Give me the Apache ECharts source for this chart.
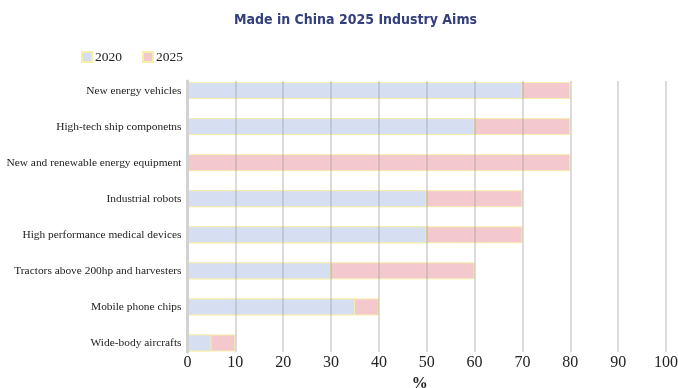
<!DOCTYPE html>
<html>
<head>
<meta charset="utf-8">
<script src="https://cdn.jsdelivr.net/npm/echarts@6/dist/echarts.min.js"></script>
<style>
  html, body { margin: 0; padding: 0; background: #ffffff; }
  #chart { width: 678px; height: 388px; }
</style>
</head>
<body>
<div id="chart"></div>
<script>
// Industry categories, listed top to bottom
const categories = [
  'New energy vehicles',
  'High-tech ship componetns',
  'New and renewable energy equipment',
  'Industrial robots',
  'High performance medical devices',
  'Tractors above 200hp and harvesters',
  'Mobile phone chips',
  'Wide-body aircrafts'
];
// Domestic market share (%) in 2020 and the 2025 target
const share2020 = [70, 60, 0, 50, 50, 30, 35, 5];
const share2025 = [80, 80, 80, 70, 70, 60, 40, 10];
const xTicks = { min: 0, max: 100, interval: 10 };

const serif = '"Liberation Serif", "DejaVu Serif", serif';
const borderYellow = '#f6eeab';

const chart = echarts.init(document.getElementById('chart'), null, { renderer: 'canvas' });

chart.setOption({
  backgroundColor: '#ffffff',
  animation: false,
  graphic: [{
    type: 'text',
    x: 355.5,
    y: 20,
    style: {
      text: 'Made in China 2025 Industry Aims',
      textAlign: 'center',
      textVerticalAlign: 'middle',
      font: 'bold 14px "DejaVu Sans Condensed", "DejaVu Sans", sans-serif',
      fill: '#34407e'
    }
  }],
  legend: {
    data: ['2020', '2025'],
    left: 81,
    top: 50,
    padding: 0,
    itemWidth: 10,
    itemHeight: 10,
    itemGap: 20,
    icon: 'rect',
    textStyle: { fontFamily: serif, fontSize: 13.5, color: '#222', padding: [0, 0, 0, -2] }
  },
  grid: [
    // bars
    { left: 187.5, right: 12, top: 72.5, height: 288.5, outerBoundsMode: 'none' },
    // grid lines and ticks, drawn above the bars
    { left: 187.5, right: 12, top: 81, height: 271, outerBoundsMode: 'none' }
  ],
  xAxis: [
    {
      gridIndex: 0, type: 'value',
      min: xTicks.min, max: xTicks.max, interval: xTicks.interval,
      axisLine: { show: false }, axisTick: { show: false },
      axisLabel: { show: false }, splitLine: { show: false }
    },
    {
      gridIndex: 1, type: 'value', z: 5,
      min: xTicks.min, max: xTicks.max, interval: xTicks.interval,
      axisLine: { show: false }, axisTick: { show: false },
      axisLabel: { fontFamily: serif, fontSize: 16, color: '#222', margin: 3 },
      splitLine: { lineStyle: { color: 'rgba(150,150,150,0.45)', width: 1.5 } },
      name: '%',
      nameLocation: 'middle',
      nameGap: 22,
      nameTextStyle: { fontFamily: serif, fontSize: 16, fontWeight: 'bold', color: '#222', padding: [0, 14, 0, 0] }
    }
  ],
  yAxis: [
    {
      gridIndex: 0, type: 'category', data: categories, inverse: true,
      axisLine: { show: false }, axisTick: { show: false },
      axisLabel: { fontFamily: serif, fontSize: 11.4, color: '#222', margin: 6 }
    },
    {
      gridIndex: 1, type: 'value', min: 0, max: 1, z: 6,
      axisLine: { show: true, lineStyle: { color: '#d2d2d2', width: 3 } },
      axisTick: { show: false }, axisLabel: { show: false }, splitLine: { show: false }
    }
  ],
  series: [
    {
      name: '2025', type: 'bar', xAxisIndex: 0, yAxisIndex: 0,
      data: share2025, barWidth: 17, barGap: '-100%',
      itemStyle: { color: '#f3c9cd', borderColor: borderYellow, borderWidth: 1 }
    },
    {
      name: '2020', type: 'bar', xAxisIndex: 0, yAxisIndex: 0,
      data: share2020, barWidth: 17, barGap: '-100%',
      itemStyle: { color: '#d5dff1', borderColor: borderYellow, borderWidth: 1 }
    }
  ]
});
</script>
</body>
</html>
